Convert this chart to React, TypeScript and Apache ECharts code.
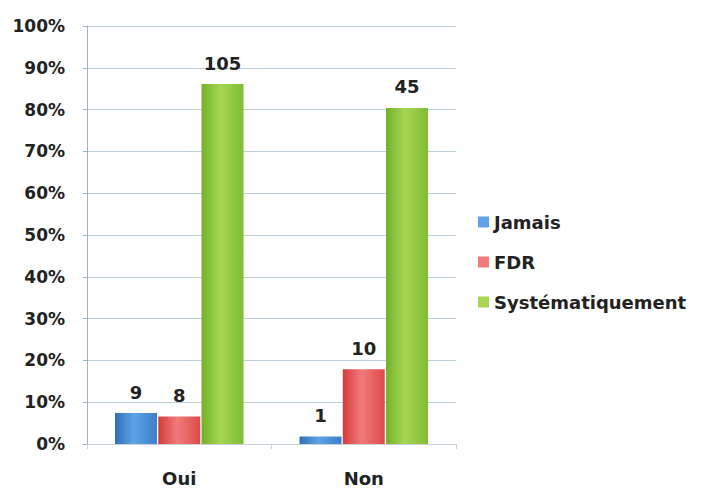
import React, { useEffect, useRef } from "react";
import * as echarts from "echarts";

const categories = ["Oui", "Non"];
const seriesNames = ["Jamais", "FDR", "Systématiquement"];
const percentJamais = [7.4, 1.8];
const percentFdr = [6.6, 17.9];
const percentSyst = [86.1, 80.4];
const countJamais = [9, 1];
const countFdr = [8, 10];
const countSyst = [105, 45];
const yTicks = [0, 10, 20, 30, 40, 50, 60, 70, 80, 90, 100];

const colors = [
  ["#2f6fb8", "#5ea4e6", "#3a7ec8"],
  ["#d23c3c", "#f27a7a", "#dc4a4a"],
  ["#74b02a", "#a6d653", "#80bc34"],
];

function grad(c: string[]) {
  return new echarts.graphic.LinearGradient(0, 0, 1, 0, [
    { offset: 0, color: c[0] },
    { offset: 0.45, color: c[1] },
    { offset: 1, color: c[2] },
  ]);
}

export default function App() {
  const ref = useRef<HTMLDivElement>(null);
  useEffect(() => {
    document.body.style.margin = "0";
    const chart = echarts.init(ref.current!, null, { renderer: "svg" });
    const font = "'DejaVu Sans', sans-serif";
    const data = [percentJamais, percentFdr, percentSyst];
    const counts = [countJamais, countFdr, countSyst];
    chart.setOption({
      animation: false,
      backgroundColor: "#ffffff",
      grid: { left: 87, right: 245, top: 26, bottom: 44, containLabel: false },
      legend: {
        orient: "vertical",
        left: 478,
        top: 213,
        padding: 0,
        itemGap: 22,
        itemWidth: 11,
        itemHeight: 11,
        icon: "rect",
        data: seriesNames.map((n, i) => ({ name: n, itemStyle: { color: colors[i][1] } })),
        textStyle: { fontFamily: font, fontWeight: "bold", fontSize: 18, color: "#222" },
      },
      xAxis: {
        type: "category",
        data: categories,
        axisLine: { show: true, lineStyle: { color: "#c8d4dc" } },
        axisTick: { show: true, lineStyle: { color: "#c8d4dc" } },
        axisLabel: {
          margin: 25,
          fontFamily: font,
          fontWeight: "bold",
          fontSize: 18,
          color: "#222",
        },
      },
      yAxis: {
        type: "value",
        min: 0,
        max: 100,
        interval: 10,
        axisLine: { show: true, lineStyle: { color: "#9fb2c0" } },
        axisTick: { show: true, length: 4, lineStyle: { color: "#9fb2c0" } },
        splitLine: { show: true, lineStyle: { color: "#bcd0dc" } },
        axisLabel: {
          margin: 22,
          fontFamily: font,
          fontWeight: "bold",
          fontSize: 17,
          color: "#222",
          formatter: (v: number) => (yTicks.includes(v) ? v + "%" : ""),
        },
      },
      series: seriesNames.map((name, i) => ({
        name,
        type: "bar",
        barWidth: 42,
        barGap: "3%",
        itemStyle: { color: grad(colors[i]) },
        data: data[i].map((v, j) => ({ value: v, count: counts[i][j] })),
        label: {
          show: true,
          position: "top",
          distance: 12,
          fontFamily: font,
          fontWeight: "bold",
          fontSize: 18,
          color: "#222",
          formatter: (p: any) => String(p.data.count),
        },
      })),
    });
    return () => chart.dispose();
  }, []);
  return <div ref={ref} style={{ width: 701, height: 488 }} />;
}
